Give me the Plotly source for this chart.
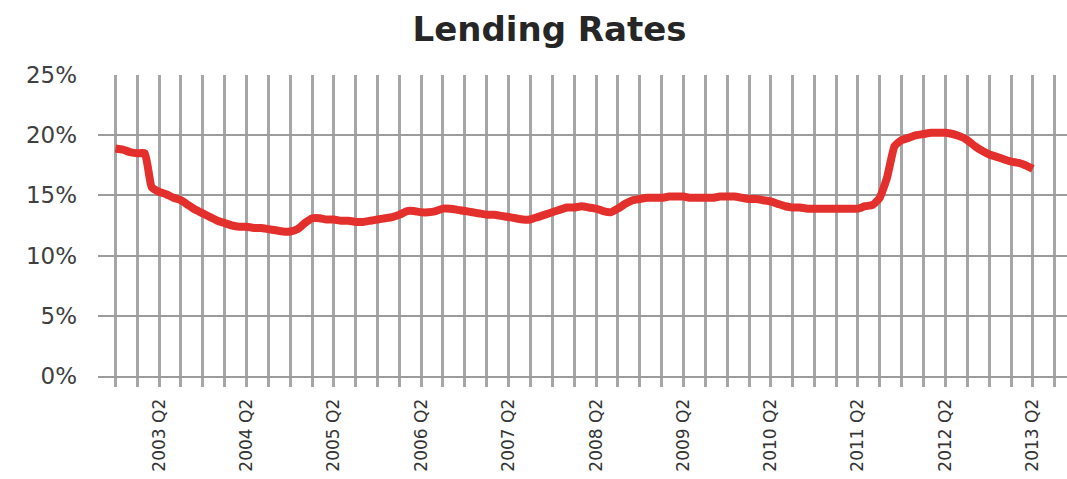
import pandas as pd
import plotly.graph_objects as go

# Monthly average lending rate (%), October 2002 onwards
start_month = "2002-10-01"
lending_rate = [
    18.9, 18.8, 18.6, 18.5, 18.5, 15.7, 15.3, 15.1, 14.8, 14.6,
    14.2, 13.8, 13.5, 13.2, 12.9, 12.7, 12.5, 12.4, 12.4, 12.3,
    12.3, 12.2, 12.1, 12.0, 12.0, 12.2, 12.7, 13.1, 13.1, 13.0,
    13.0, 12.9, 12.9, 12.8, 12.8, 12.9, 13.0, 13.1, 13.2, 13.4,
    13.7, 13.7, 13.6, 13.6, 13.7, 13.9, 13.9, 13.8, 13.7, 13.6,
    13.5, 13.4, 13.4, 13.3, 13.2, 13.1, 13.0, 13.0, 13.2, 13.4,
    13.6, 13.8, 14.0, 14.0, 14.1, 14.0, 13.9, 13.7, 13.6, 13.9,
    14.3, 14.6, 14.7, 14.8, 14.8, 14.8, 14.9, 14.9, 14.9, 14.8,
    14.8, 14.8, 14.8, 14.9, 14.9, 14.9, 14.8, 14.7, 14.7, 14.6,
    14.5, 14.3, 14.1, 14.0, 14.0, 13.9, 13.9, 13.9, 13.9, 13.9,
    13.9, 13.9, 13.9, 14.1, 14.2, 14.8, 16.5, 19.1, 19.6, 19.8,
    20.0, 20.1, 20.2, 20.2, 20.2, 20.1, 19.9, 19.6, 19.1, 18.7,
    18.4, 18.2, 18.0, 17.8, 17.7, 17.5, 17.2,
]
months = pd.date_range(start_month, periods=len(lending_rate), freq="MS")

# Labelled ticks: second quarter of each year
label_years = list(range(2003, 2014))
label_dates = [f"{y}-04-01" for y in label_years]
label_text = [f"{y} Q2" for y in label_years]

y_ticks = [0, 5, 10, 15, 20, 25]

GRID = "#a6a6a6"
HGRID = "#9c9c9c"

fig = go.Figure(
    go.Scatter(
        x=months,
        y=lending_rate,
        mode="lines",
        line=dict(color="#e3302c", width=8, shape="spline", smoothing=0.4),
        showlegend=False,
    )
)

fig.update_layout(
    width=1067,
    height=479,
    margin=dict(l=98, r=0, t=75, b=103),
    paper_bgcolor="white",
    plot_bgcolor="white",
    title=dict(
        text="<b>Lending Rates</b>",
        x=0.515,
        xanchor="center",
        y=1 - 29 / 479,
        yref="container",
        yanchor="middle",
        font=dict(family="DejaVu Sans", size=34, color="#262626"),
    ),
)

fig.update_xaxes(
    type="date",
    range=["2002-07-20", "2013-08-22"],
    tickmode="array",
    tickvals=label_dates,
    ticktext=label_text,
    tickangle=-90,
    ticks="outside",
    ticklen=9,
    tickwidth=3,
    tickcolor=GRID,
    tickfont=dict(family="DejaVu Sans", size=17, color="#333333"),
    ticklabelstandoff=5,
    showgrid=True,
    gridcolor=GRID,
    gridwidth=3.2,
    minor=dict(
        tickmode="linear",
        tick0=start_month,
        dtick="M3",
        showgrid=True,
        gridcolor=GRID,
        gridwidth=3.2,
        ticks="outside",
        ticklen=9,
        tickwidth=3,
        tickcolor=GRID,
    ),
    showline=True,
    linecolor=HGRID,
    linewidth=2,
    zeroline=False,
)

fig.update_yaxes(
    range=[0, 25],
    tickmode="array",
    tickvals=y_ticks,
    ticktext=[f"{v}%" for v in y_ticks],
    tickfont=dict(family="DejaVu Sans", size=23, color="#404040"),
    ticklabelstandoff=20,
    showgrid=True,
    gridcolor=HGRID,
    gridwidth=2,
    zeroline=False,
    showline=False,
)

fig.write_html("out.html")
